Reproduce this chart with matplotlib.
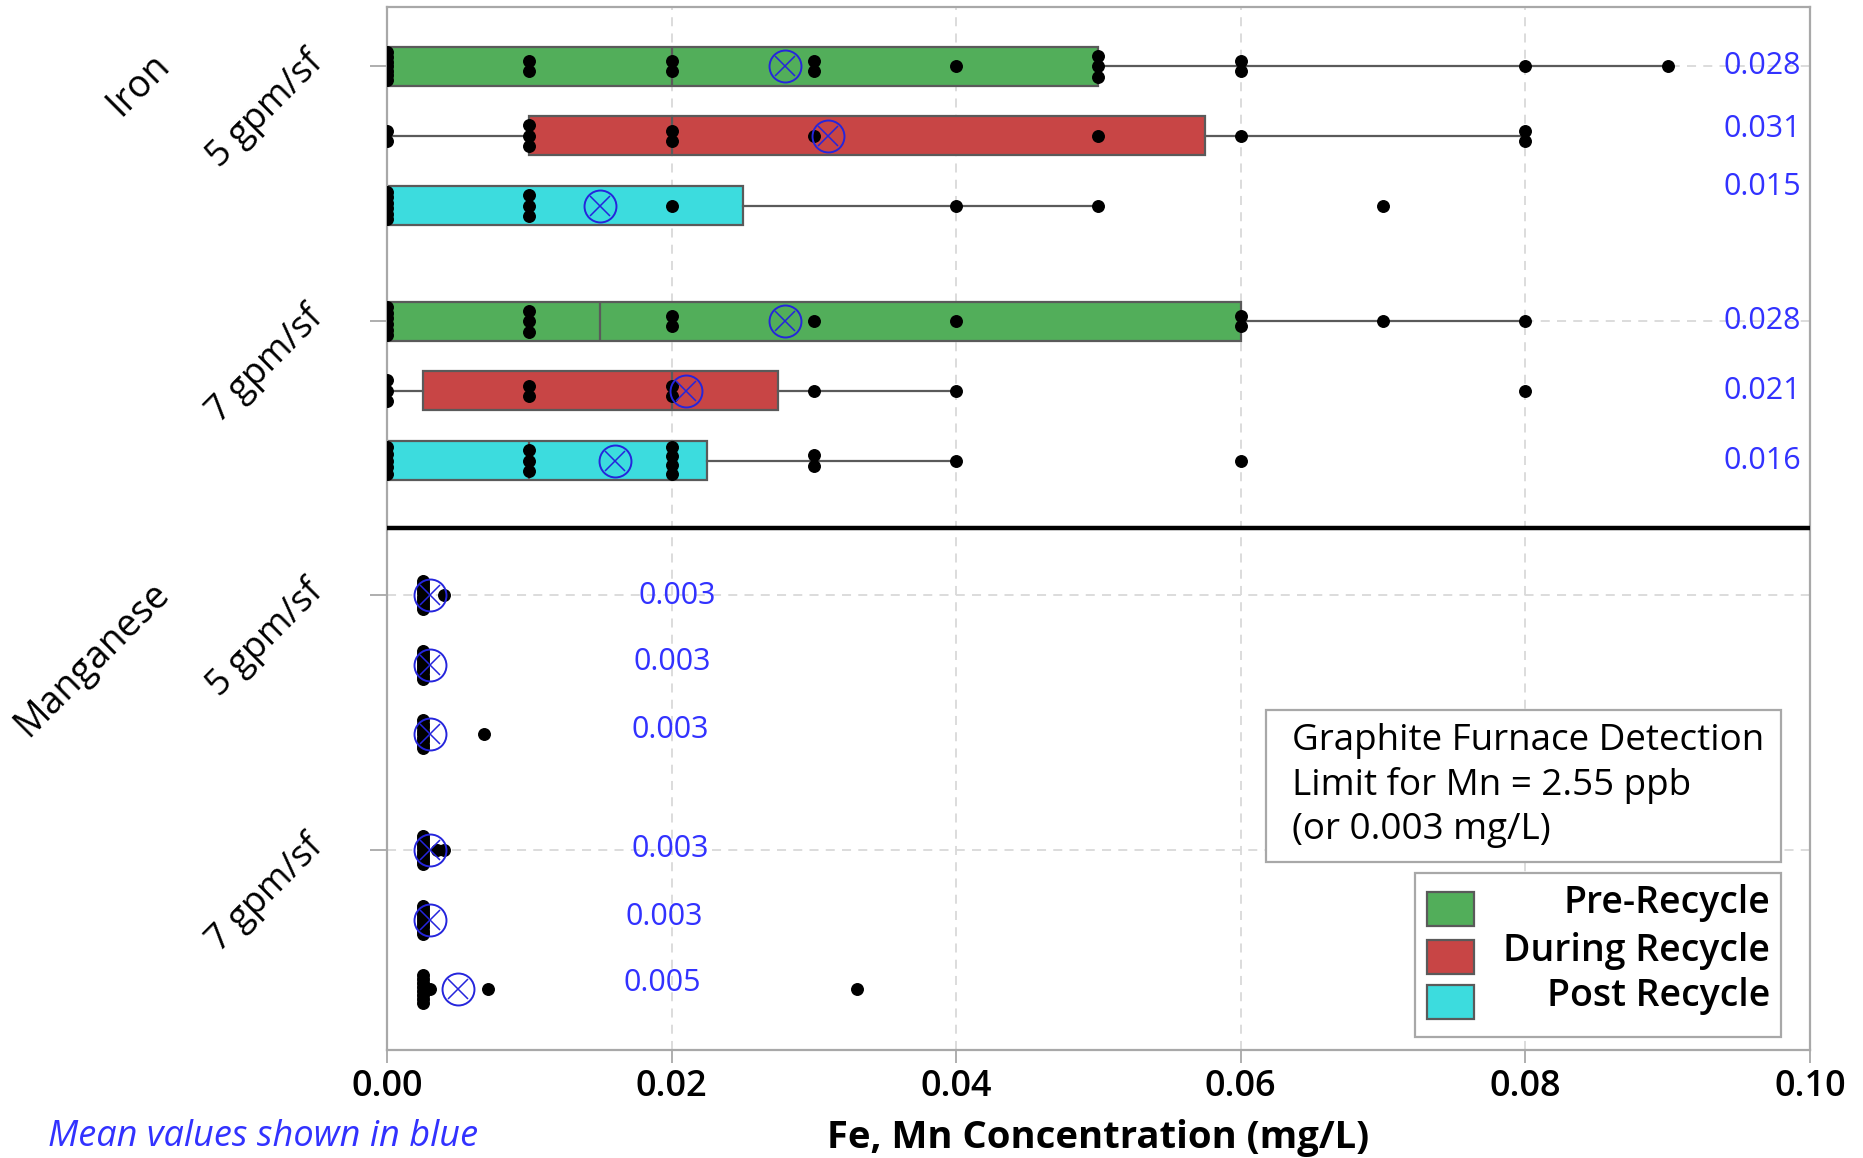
import numpy as np
import matplotlib
matplotlib.use("Agg")
import matplotlib.pyplot as plt
from matplotlib.patches import Rectangle
from matplotlib.ticker import FormatStrFormatter

plt.rcParams['font.family'] = ['Open Sans', 'DejaVu Sans']

# ---------------------------------------------------------------- data
metals = ["Iron", "Manganese"]
rates = ["5 gpm/sf", "7 gpm/sf"]
phases = ["Pre-Recycle", "During Recycle", "Post Recycle"]

# Iron box statistics (mg/L); order: 5 gpm pre/during/post, 7 gpm pre/during/post
fe_q1 = [0.0, 0.01, 0.0, 0.0, 0.0025, 0.0]
fe_med = [0.02, 0.02, 0.0, 0.015, 0.02, 0.01]
fe_q3 = [0.05, 0.0575, 0.025, 0.06, 0.0275, 0.0225]
fe_wlo = [0.0, 0.0, 0.0, 0.0, 0.0, 0.0]
fe_whi = [0.09, 0.08, 0.05, 0.08, 0.04, 0.04]
fe_mean = [0.028, 0.031, 0.015, 0.028, 0.021, 0.016]

# Manganese box statistics (mg/L); results sit at the detection limit
mn_q1 = [0.00255, 0.00255, 0.00255, 0.00255, 0.00255, 0.00255]
mn_med = [0.00255, 0.00255, 0.00255, 0.00255, 0.00255, 0.00255]
mn_q3 = [0.00255, 0.00255, 0.00255, 0.00255, 0.00255, 0.00255]
mn_wlo = [0.00255, 0.00255, 0.00255, 0.00255, 0.00255, 0.00255]
mn_whi = [0.00255, 0.00255, 0.00255, 0.00255, 0.00255, 0.00255]
mn_mean = [0.003, 0.003, 0.003, 0.003, 0.003, 0.005]

# Individual Iron results (mg/L)
fe_5_pre = [0.0, 0.0, 0.0, 0.0, 0.0, 0.0, 0.0, 0.01, 0.01, 0.02, 0.02, 0.03, 0.03,
            0.04, 0.05, 0.05, 0.05, 0.06, 0.06, 0.08, 0.09]
fe_5_dur = [0.0, 0.0, 0.01, 0.01, 0.01, 0.02, 0.02, 0.03, 0.05, 0.06, 0.08, 0.08]
fe_5_post = [0.0, 0.0, 0.0, 0.0, 0.0, 0.0, 0.01, 0.01, 0.01, 0.02, 0.04, 0.05, 0.07]
fe_7_pre = [0.0, 0.0, 0.0, 0.0, 0.0, 0.0, 0.01, 0.01, 0.01, 0.02, 0.02, 0.03, 0.04,
            0.06, 0.06, 0.07, 0.08]
fe_7_dur = [0.0, 0.0, 0.0, 0.01, 0.01, 0.02, 0.02, 0.03, 0.04, 0.08]
fe_7_post = [0.0, 0.0, 0.0, 0.0, 0.0, 0.01, 0.01, 0.01, 0.02, 0.02, 0.02, 0.02,
             0.03, 0.03, 0.04, 0.06]

# Individual Manganese results (mg/L)
mn_5_pre = [0.00255, 0.00255, 0.00255, 0.00255, 0.00255, 0.00255, 0.00255, 0.00255,
            0.00255, 0.00255, 0.004]
mn_5_dur = [0.00255, 0.00255, 0.00255, 0.00255, 0.00255, 0.00255, 0.00255, 0.00255,
            0.00255, 0.00255]
mn_5_post = [0.00255, 0.00255, 0.00255, 0.00255, 0.00255, 0.00255, 0.00255, 0.00255,
             0.00255, 0.0068]
mn_7_pre = [0.00255, 0.00255, 0.00255, 0.00255, 0.00255, 0.00255, 0.00255, 0.00255,
            0.00255, 0.00255, 0.0035, 0.004]
mn_7_dur = [0.00255, 0.00255, 0.00255, 0.00255, 0.00255, 0.00255, 0.00255, 0.00255,
            0.00255, 0.00255]
mn_7_post = [0.00255, 0.00255, 0.00255, 0.00255, 0.00255, 0.00255, 0.00255, 0.00255,
             0.003, 0.0071, 0.033]

x_ticks = [0.0, 0.02, 0.04, 0.06, 0.08, 0.10]
x_label = "Fe, Mn Concentration (mg/L)"
note_text = "Graphite Furnace Detection\nLimit for Mn = 2.55 ppb\n(or 0.003 mg/L)"
footnote = "Mean values shown in blue"

# ---------------------------------------------------------------- layout & style
colors = ["#52AE5A", "#C84545", "#3CDCDE"]
EDGE = "#5a5a5a"
MEAN_C = "#2525DC"
LABEL_C = "#3232FF"
SPINE_C = "#a8a8a8"

section_start = [0.0, 7.59]   # first row of each metal
rate_step = 3.66              # distance between the 5 and 7 gpm/sf blocks
separator_y = 6.63

fe_label_x = [0.0994] * 6
fe_label_dy = [0.0, -0.10, -0.27, 0.0, 0.0, 0.0]
mn_label_x = [0.0231, 0.0228, 0.0226, 0.0226, 0.0222, 0.0221]
mn_label_dy = [0.02, -0.04, -0.06, -0.01, -0.04, -0.09]


def stack_offsets(vals, max_step=0.15, max_span=0.40):
    """Vertical offsets so repeated values stack instead of overlapping."""
    vals = np.asarray(vals)
    offs = np.zeros(len(vals))
    for v in np.unique(vals):
        idx = np.where(vals == v)[0]
        k = len(idx)
        if k > 1:
            step = min(max_step, max_span / (k - 1))
            offs[idx] = (np.arange(k) - (k - 1) / 2) * step
    return offs


fig = plt.figure(figsize=(18.63, 11.58), dpi=100)
ax = fig.add_axes([0.2077, 0.0933, 0.7638, 0.9007])

sections = [
    dict(q1=fe_q1, med=fe_med, q3=fe_q3, wlo=fe_wlo, whi=fe_whi, mean=fe_mean,
         pts=[fe_5_pre, fe_5_dur, fe_5_post, fe_7_pre, fe_7_dur, fe_7_post],
         lx=fe_label_x, ldy=fe_label_dy),
    dict(q1=mn_q1, med=mn_med, q3=mn_q3, wlo=mn_wlo, whi=mn_whi, mean=mn_mean,
         pts=[mn_5_pre, mn_5_dur, mn_5_post, mn_7_pre, mn_7_dur, mn_7_post],
         lx=mn_label_x, ldy=mn_label_dy),
]

tick_pos = []
for s_i, sec in enumerate(sections):
    positions = []
    for r_i in range(len(rates)):
        base = section_start[s_i] + r_i * rate_step
        tick_pos.append(base)
        for p_i in range(len(phases)):
            positions.append(base + p_i)

    stats = []
    for j in range(6):
        stats.append(dict(q1=sec["q1"][j], med=sec["med"][j], q3=sec["q3"][j],
                          whislo=sec["wlo"][j], whishi=sec["whi"][j],
                          mean=sec["mean"][j], fliers=[]))
    bp = ax.bxp(stats, positions=positions, widths=0.56, orientation="horizontal",
                patch_artist=True, showcaps=False, showfliers=False, showmeans=False,
                manage_ticks=False,
                boxprops=dict(edgecolor=EDGE, linewidth=1.6),
                whiskerprops=dict(color=EDGE, linewidth=1.6),
                medianprops=dict(color=EDGE, linewidth=1.6))
    for j, patch in enumerate(bp["boxes"]):
        patch.set_facecolor(colors[j % 3])
        patch.set_zorder(2)

    for j in range(6):
        vals = np.asarray(sec["pts"][j], dtype=float)
        ys = positions[j] + stack_offsets(vals)
        ax.plot(vals, ys, ls="none", marker="o", ms=8.3, color="black", zorder=3)
        m = sec["mean"][j]
        ax.plot([m], [positions[j]], ls="none", marker="o", ms=23, mfc="none",
                mec=MEAN_C, mew=1.4, zorder=4)
        ax.plot([m], [positions[j]], ls="none", marker="x", ms=15, mec=MEAN_C,
                mew=1.1, zorder=4)
        ax.text(sec["lx"][j], positions[j] + sec["ldy"][j], f"{m:.3f}",
                ha="right", va="center", color=LABEL_C, fontsize=22, zorder=5)

# axes, grid and frame
ax.set_xlim(0, 0.10)
ax.set_ylim(14.12, -0.85)
ax.set_xticks(x_ticks)
ax.xaxis.set_major_formatter(FormatStrFormatter("%.2f"))
ax.set_yticks(tick_pos)
ax.set_yticklabels([""] * len(tick_pos))
ax.grid(True, ls=(0, (5, 4)), color="#d9d9d9", lw=1.3)
ax.set_axisbelow(True)
for sp in ax.spines.values():
    sp.set_color(SPINE_C)
    sp.set_linewidth(1.6)
ax.tick_params(axis="x", length=9, width=1.3, color=SPINE_C, pad=5, labelsize=26)
ax.tick_params(axis="y", length=12, width=1.3, color=SPINE_C)
for lbl in ax.get_xticklabels():
    lbl.set_fontweight("semibold")
ax.set_xlabel(x_label, fontsize=27.5, fontweight="bold", labelpad=10)
ax.axhline(separator_y, color="black", lw=3.2, zorder=5)

# rotated category labels
ytr = ax.get_yaxis_transform()
for s_i, metal in enumerate(metals):
    ax.text(-0.157, section_start[s_i] - 0.10, metal, transform=ytr, rotation=45,
            rotation_mode="anchor", ha="right", va="center", fontsize=27, clip_on=False)
    for r_i, rate in enumerate(rates):
        base = section_start[s_i] + r_i * rate_step
        ax.text(-0.049, base - 0.12, rate, transform=ytr, rotation=45,
                rotation_mode="anchor", ha="right", va="center", fontsize=26,
                clip_on=False)

# detection-limit note
ax.add_patch(Rectangle((0.6177, 0.1802), 0.9796 - 0.6177, 0.326 - 0.1802,
                       transform=ax.transAxes, facecolor="white", edgecolor=SPINE_C,
                       lw=1.6, zorder=6))
ax.text(0.636, 0.2535, note_text, transform=ax.transAxes, ha="left", va="center",
        fontsize=26.5, linespacing=1.28, zorder=7)

# legend
ax.add_patch(Rectangle((0.7224, 0.0125), 0.9796 - 0.7224, 0.1697 - 0.0125,
                       transform=ax.transAxes, facecolor="white", edgecolor=SPINE_C,
                       lw=1.6, zorder=6))
leg_y = [0.1352, 0.0892, 0.0460]
for p_i, name in enumerate(phases):
    ax.add_patch(Rectangle((0.7309, leg_y[p_i] - 0.0163), 0.033, 0.0326,
                           transform=ax.transAxes, facecolor=colors[p_i],
                           edgecolor=EDGE, lw=1.6, zorder=7))
    ax.text(0.9719, leg_y[p_i] + 0.006, name, transform=ax.transAxes, ha="right",
            va="center", fontsize=27, fontweight="semibold", zorder=7)

fig.text(48 / 1863, 1 - 1137 / 1158, footnote, ha="left", va="center",
         fontsize=26, style="italic", color=LABEL_C)

fig.savefig("out.png", dpi=100)
